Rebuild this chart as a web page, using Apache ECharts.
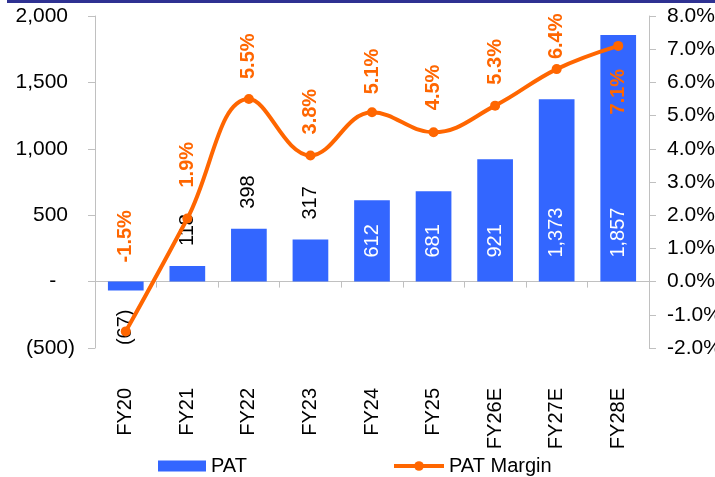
<!DOCTYPE html>
<html>
<head>
    <meta charset="UTF-8">
    <title>PAT and PAT Margin</title>
    <script src="https://cdn.jsdelivr.net/npm/echarts@6/dist/echarts.min.js"></script>
    <style>
        html, body { margin: 0; padding: 0; background: #fff; overflow: hidden; }
        #chart { width: 740px; height: 477px; }
    </style>
</head>
<body>
    <div id="chart"></div>
    <script>
        // data
        const categories = ['FY20', 'FY21', 'FY22', 'FY23', 'FY24', 'FY25', 'FY26E', 'FY27E', 'FY28E'];
        const pat = [-67, 118, 398, 317, 612, 681, 921, 1373, 1857];
        const patMargin = [-1.5, 1.9, 5.5, 3.8, 5.1, 4.5, 5.3, 6.4, 7.1];
        const leftTicks = { min: -500, max: 2000, interval: 500 };
        const rightTicks = { min: -2, max: 8, interval: 1 };

        const FONT = '"Liberation Sans", Arial, sans-serif';
        const BLUE = '#3366FF';
        const ORANGE = '#FF6600';

        // gap between margin point and its label (manual tweaks like the source)
        const marginGap = [64, 26, 15, 16, 13, 17, 16, 5, 18];

        function fmtNum(v) {
            return Math.abs(v).toLocaleString('en-US');
        }

        // the canvas is a bit wider than the window so the right labels get cut like the original
        let chart = echarts.init(document.getElementById('chart'));

        const barData = pat.map((v, i) => {
            let label;
            if (v < 0) {
                label = { position: 'bottom', align: 'right', distance: 19, color: '#000' };
            } else if (i < 4) {
                label = { position: 'top', align: 'left', distance: 20, color: '#000' };
            } else {
                label = { position: 'insideBottom', align: 'left', distance: 24, color: '#fff' };
            }
            return { value: v, label: label };
        });

        const lineData = patMargin.map((v, i) => {
            const last = i === patMargin.length - 1;
            return {
                value: v,
                label: last
                    ? { position: 'bottom', align: 'right', distance: marginGap[i] }
                    : { position: 'top', align: 'left', distance: marginGap[i] }
            };
        });

        let option = {
            animation: false,
            textStyle: { fontFamily: FONT },
            graphic: [{
                type: 'rect',
                shape: { x: 7, y: 0, width: 733, height: 3 },
                style: { fill: '#2E3192' }
            }],
            grid: {
                left: 95, right: 91, top: 16, bottom: 129,
                containLabel: false, outerBoundsMode: 'none'
            },
            legend: [{
                data: [{ name: 'PAT', icon: 'rect' }],
                left: 153, top: 451,
                itemWidth: 48, itemHeight: 11, itemGap: 5,
                textStyle: { fontSize: 20, color: '#000', fontFamily: FONT }
            }, {
                data: ['PAT Margin'],
                left: 387, top: 451,
                itemWidth: 50, itemHeight: 12,
                lineStyle: { width: 4, color: ORANGE },
                textStyle: { fontSize: 20, color: '#000', fontFamily: FONT }
            }],
            xAxis: {
                type: 'category',
                data: categories,
                axisLine: { onZero: true, lineStyle: { color: '#C0C0C0', width: 1 } },
                axisTick: { show: true, length: 6, lineStyle: { color: '#C0C0C0' } },
                axisLabel: {
                    rotate: 90, margin: 40, interval: 0,
                    fontSize: 20, color: '#000', fontFamily: FONT
                },
                splitLine: { show: false }
            },
            yAxis: [{
                type: 'value',
                min: leftTicks.min, max: leftTicks.max, interval: leftTicks.interval,
                axisLine: { show: true, lineStyle: { color: '#C0C0C0' } },
                axisTick: { show: true, length: 7, lineStyle: { color: '#C0C0C0' } },
                splitLine: { show: false },
                axisLabel: {
                    margin: 20, fontSize: 21, color: '#000', fontFamily: FONT,
                    formatter: v => {
                        if (v === 0) return '-{h|0)}';
                        if (v < 0) return '(' + fmtNum(v) + ')';
                        return fmtNum(v) + '{h|)}';
                    },
                    rich: { h: { color: 'transparent', fontSize: 21, fontFamily: FONT } }
                }
            }, {
                type: 'value',
                min: rightTicks.min, max: rightTicks.max, interval: rightTicks.interval,
                position: 'right',
                axisLine: { show: true, lineStyle: { color: '#C0C0C0' } },
                axisTick: { show: true, length: 7, lineStyle: { color: '#C0C0C0' } },
                splitLine: { show: false },
                axisLabel: {
                    margin: 18, fontSize: 21, color: '#000', fontFamily: FONT,
                    formatter: v => v.toFixed(1) + '%'
                }
            }],
            series: [{
                name: 'PAT',
                type: 'bar',
                yAxisIndex: 0,
                barWidth: '58%',
                itemStyle: { color: BLUE },
                label: {
                    show: true, rotate: 90, verticalAlign: 'middle',
                    fontSize: 20, fontFamily: FONT,
                    formatter: p => p.value < 0 ? '(' + fmtNum(p.value) + ')' : fmtNum(p.value)
                },
                data: barData
            }, {
                name: 'PAT Margin',
                type: 'line',
                yAxisIndex: 1,
                smooth: 0.4,
                symbol: 'circle',
                symbolSize: 10,
                lineStyle: { color: ORANGE, width: 4 },
                itemStyle: { color: ORANGE },
                label: {
                    show: true, rotate: 90, verticalAlign: 'middle',
                    fontSize: 20, fontWeight: 'bold', color: ORANGE, fontFamily: FONT,
                    formatter: p => p.value.toFixed(1) + '%'
                },
                data: lineData,
                z: 5
            }]
        };
        chart.setOption(option);
    </script>
</body>
</html>
